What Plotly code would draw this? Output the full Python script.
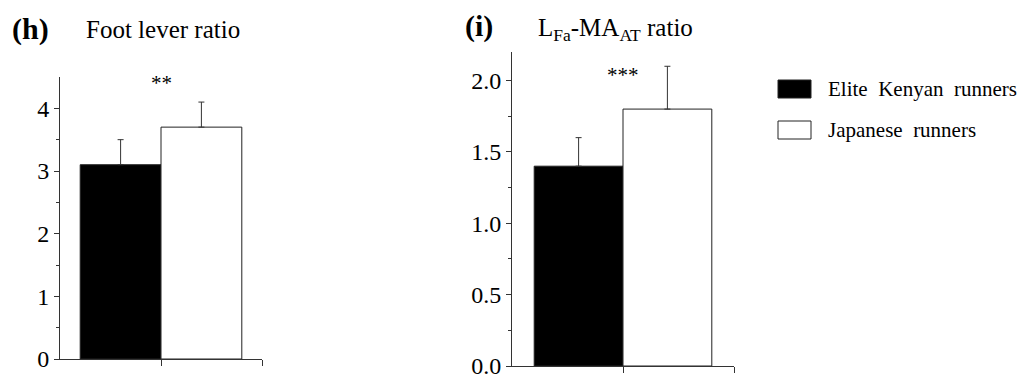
import plotly.graph_objects as go

groups = ["Elite Kenyan runners", "Japanese runners"]
bar_colors = ["black", "white"]

foot_lever_mean = [3.1, 3.7]
foot_lever_sd = [0.4, 0.4]

lfa_ma_mean = [1.4, 1.8]
lfa_ma_sd = [0.2, 0.3]

W, H = 1024, 376
FONT = "Liberation Serif"

def px_x(p):
    return p / W

def px_y(p):
    return 1 - p / H

fig = go.Figure()

fig.add_trace(go.Bar(
    x=[0, 1], y=foot_lever_mean, width=1,
    marker=dict(color=bar_colors, line=dict(color="#222", width=1)),
    error_y=dict(type="data", array=foot_lever_sd, arrayminus=[0, 0], symmetric=False,
                 color="#333", thickness=1, width=3),
    xaxis="x", yaxis="y", showlegend=False, hoverinfo="skip"))

fig.add_trace(go.Bar(
    x=[0, 1], y=lfa_ma_mean, width=1,
    marker=dict(color=bar_colors, line=dict(color="#222", width=1)),
    error_y=dict(type="data", array=lfa_ma_sd, arrayminus=[0, 0], symmetric=False,
                 color="#333", thickness=1, width=3),
    xaxis="x2", yaxis="y2", showlegend=False, hoverinfo="skip"))

axcol = "#333"
xcommon = dict(range=[-0.75, 1.75], showline=True, linecolor=axcol, linewidth=1,
               ticks="outside", ticklen=6, tickcolor=axcol, tickvals=[0.5, 1.75],
               showticklabels=False, showgrid=False, zeroline=False, fixedrange=True,
               automargin=False)
ycommon = dict(showline=True, linecolor=axcol, linewidth=1, ticks="outside", ticklen=5,
               tickcolor=axcol, showgrid=False, zeroline=False, automargin=False,
               ticklabeloverflow="allow", fixedrange=True,
               tickfont=dict(family=FONT, size=24, color="black"))

fig.update_layout(
    width=W, height=H, margin=dict(l=0, r=0, t=0, b=0, pad=0),
    plot_bgcolor="white", paper_bgcolor="white", bargap=0,
    font=dict(family=FONT, color="black"),
    xaxis=dict(domain=[px_x(60), px_x(262)], anchor="y", **xcommon),
    yaxis=dict(domain=[px_y(359), px_y(77)], anchor="x", range=[0, 4.5],
               tickvals=[0, 1, 2, 3, 4],
               minor=dict(tickvals=[0.5, 1.5, 2.5, 3.5], ticks="outside", ticklen=3, tickcolor=axcol),
               **ycommon),
    xaxis2=dict(domain=[px_x(512), px_x(734)], anchor="y2", **xcommon),
    yaxis2=dict(domain=[px_y(366), px_y(52)], anchor="x2", range=[0, 2.2],
                tickvals=[0, 0.5, 1.0, 1.5, 2.0], ticktext=["0.0", "0.5", "1.0", "1.5", "2.0"],
                minor=dict(tickvals=[0.25, 0.75, 1.25, 1.75], ticks="outside", ticklen=3, tickcolor=axcol),
                **ycommon),
)

ann = []
ann.append(dict(x=0.5, y=4.4, xref="x", yref="y", text="**", showarrow=False,
                font=dict(family=FONT, size=21), xanchor="center", yanchor="middle"))
ann.append(dict(x=0.5, y=2.04, xref="x2", yref="y2", text="***", showarrow=False,
                font=dict(family=FONT, size=21), xanchor="center", yanchor="middle"))
ann.append(dict(x=px_x(10), y=px_y(29), xref="paper", yref="paper", text="<b>(h)</b>",
                showarrow=False, font=dict(family=FONT, size=30), xanchor="left", yanchor="middle"))
ann.append(dict(x=px_x(84), y=px_y(30), xref="paper", yref="paper", text="Foot lever ratio",
                showarrow=False, font=dict(family=FONT, size=25), xanchor="left", yanchor="middle"))
ann.append(dict(x=px_x(463), y=px_y(26), xref="paper", yref="paper", text="<b>(i)</b>",
                showarrow=False, font=dict(family=FONT, size=30), xanchor="left", yanchor="middle"))
ann.append(dict(x=px_x(536), y=px_y(30), xref="paper", yref="paper",
                text="L<sub>Fa</sub>-MA<sub>AT</sub> ratio",
                showarrow=False, font=dict(family=FONT, size=25), xanchor="left", yanchor="middle"))

shapes = []
legend_rows = [(89, 0), (130, 1)]
for yc, i in legend_rows:
    shapes.append(dict(type="rect", xref="paper", yref="paper",
                       x0=px_x(778), x1=px_x(811), y0=px_y(yc + 9), y1=px_y(yc - 9),
                       fillcolor=bar_colors[i], line=dict(color="#222", width=1)))
    ann.append(dict(x=px_x(826), y=px_y(yc), xref="paper", yref="paper",
                    text=groups[i].replace(" ", "  "), showarrow=False,
                    font=dict(family=FONT, size=21), xanchor="left", yanchor="middle"))

fig.update_layout(annotations=ann, shapes=shapes)
fig.write_html("out.html", config={"displayModeBar": False, "staticPlot": True},
               post_script="document.body.style.margin='0';document.body.style.padding='0';")
